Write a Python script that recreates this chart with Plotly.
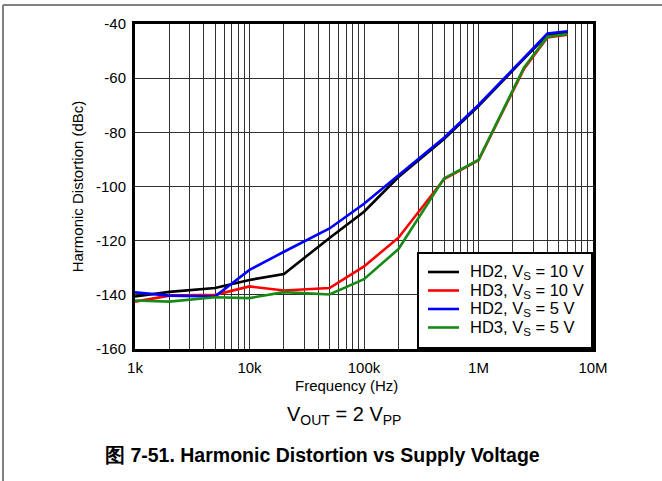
import plotly.graph_objects as go

# Frequency points (Hz)
freq = [1e3, 2e3, 5e3, 1e4, 2e4, 5e4, 1e5, 2e5, 5e5, 1e6, 2.5e6, 4e6, 6e6]

# Harmonic distortion (dBc)
hd2_10v = [-140.6, -138.9, -137.5, -134.5, -132.3, -119.0, -109.3, -96.5, -82.5, -70.3, -52.8, -44.0, -43.2]
hd3_10v = [-142.5, -140.3, -140.0, -136.9, -138.4, -137.5, -129.5, -118.9, -97.3, -90.3, -56.5, -45.0, -44.0]
hd2_5v = [-139.1, -140.3, -140.6, -130.8, -124.1, -115.5, -106.4, -96.0, -82.0, -69.9, -52.3, -43.5, -42.7]
hd3_5v = [-142.1, -142.5, -140.9, -141.2, -139.0, -139.9, -134.2, -123.1, -97.0, -90.2, -56.0, -44.7, -43.7]

series = [
    ("HD2, V<sub>S</sub> = 10 V", hd2_10v, "#000000"),
    ("HD3, V<sub>S</sub> = 10 V", hd3_10v, "#ff0000"),
    ("HD2, V<sub>S</sub> = 5 V", hd2_5v, "#0000ff"),
    ("HD3, V<sub>S</sub> = 5 V", hd3_5v, "#168a16"),
]

y_ticks = [-40, -60, -80, -100, -120, -140, -160]
y_tick_text = ["-40", "-60", "-80", "-100", "-120", "-140", "-160"]
x_major_text = ["1k", "10k", "100k", "1M", "10M"]

# log grid: every 1..9 multiple per decade, labels only on decades
x_grid = []
x_grid_text = []
for d in range(3, 7):
    for m in range(1, 10):
        x_grid.append(m * 10 ** d)
        x_grid_text.append(x_major_text[d - 3] if m == 1 else "")
x_grid.append(1e7)
x_grid_text.append(x_major_text[-1])

W, H = 662, 481
L, R, T, B = 135, 69, 24, 132
PW, PH = W - L - R, H - T - B

def px(x):
    return (x - L) / PW

def py(y):
    return (H - B - y) / PH

fig = go.Figure()
for name, vals, color in series:
    fig.add_trace(go.Scatter(
        x=freq, y=vals, name=name, mode="lines",
        line=dict(color=color, width=2.6), showlegend=False,
    ))

font = "Liberation Sans, Arial, sans-serif"

fig.update_layout(
    width=W, height=H,
    margin=dict(l=L, r=R, t=T, b=B),
    paper_bgcolor="white", plot_bgcolor="white",
    font=dict(family=font, size=15, color="black"),
    showlegend=False,
    xaxis=dict(
        type="log", range=[3, 7],
        tickvals=x_grid, ticktext=x_grid_text,
        showgrid=True, gridcolor="#303030", gridwidth=1,
        showline=True, linecolor="black", linewidth=3, mirror=True,
        ticks="", tickfont=dict(size=15), ticklabelstandoff=3,
        zeroline=False,
    ),
    yaxis=dict(
        range=[-160, -40], tickvals=y_ticks, ticktext=y_tick_text,
        showgrid=True, gridcolor="#303030", gridwidth=1,
        showline=True, linecolor="black", linewidth=3, mirror=True,
        ticks="", tickfont=dict(size=15), ticklabelstandoff=3,
        zeroline=False,
        title=dict(text="Harmonic Distortion (dBc)", font=dict(size=15), standoff=9),
    ),
)

# legend box in the lower-right corner of the plot
fig.add_shape(type="rect", xref="paper", yref="paper", layer="above",
              x0=px(418), x1=px(592), y0=py(348), y1=py(253),
              fillcolor="white", line=dict(color="black", width=2))
row_y = [272, 290.5, 309, 327.5]
for (name, _, color), ry in zip(series, row_y):
    fig.add_shape(type="line", xref="paper", yref="paper", layer="above",
                  x0=px(428), x1=px(459), y0=py(ry), y1=py(ry),
                  line=dict(color=color, width=2.6))
    fig.add_annotation(x=px(468), y=py(ry), xref="paper", yref="paper",
                       xanchor="left", yanchor="middle", showarrow=False,
                       text=name, font=dict(size=16.5))

fig.add_annotation(
    x=px(346), y=py(385), xref="paper", yref="paper",
    xanchor="center", yanchor="middle",
    text="Frequency (Hz)", showarrow=False, font=dict(size=15),
)
fig.add_annotation(
    x=px(344), y=py(415), xref="paper", yref="paper",
    xanchor="center", yanchor="middle",
    text="V<sub>OUT</sub> = 2 V<sub>PP</sub>", showarrow=False, font=dict(size=20),
)
fig.add_annotation(
    x=px(322), y=py(455), xref="paper", yref="paper",
    xanchor="center", yanchor="middle",
    text="<b>图 7-51. Harmonic Distortion vs Supply Voltage</b>",
    showarrow=False, font=dict(size=19.5),
)

# outer frame lines (top and left)
fig.add_shape(type="line", xref="paper", yref="paper",
              x0=px(3), x1=px(662), y0=py(5), y1=py(5),
              line=dict(color="#808080", width=2))
fig.add_shape(type="line", xref="paper", yref="paper",
              x0=px(3), x1=px(3), y0=py(5), y1=py(481),
              line=dict(color="#808080", width=2))

fig.write_html("out.html")
